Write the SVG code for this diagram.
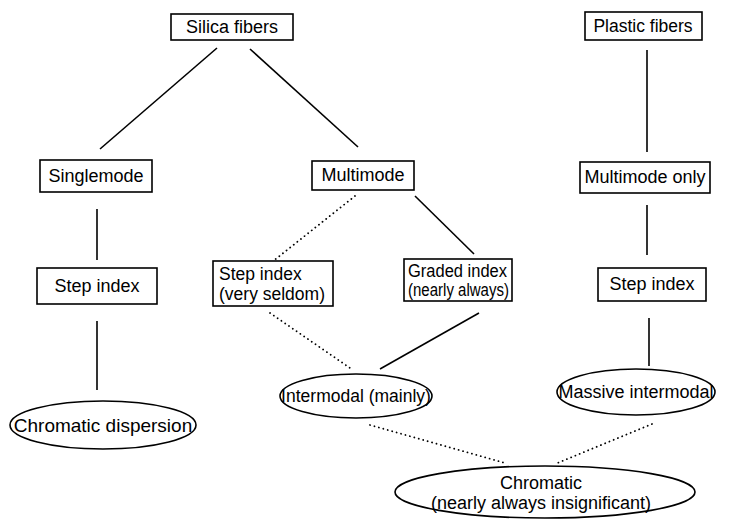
<svg xmlns="http://www.w3.org/2000/svg" width="744" height="522" viewBox="0 0 744 522">
<style>
.box{fill:#fff;stroke:#000;stroke-width:1.6}
.t{font-family:"Liberation Sans",Arial,sans-serif;font-size:18px;fill:#000}
.c{text-anchor:middle}
.s{stroke:#000;stroke-width:1.6;fill:none}
.d{stroke:#000;stroke-width:1.8;fill:none;stroke-dasharray:0.1 4.5;stroke-linecap:round}
</style>
<rect width="744" height="522" fill="#fff"/>
<g id="connectors">
<line class="s" x1="217" y1="48" x2="100" y2="149"/>
<line class="s" x1="250" y1="49" x2="358" y2="147"/>
<line class="s" x1="97" y1="209" x2="97" y2="260"/>
<line class="s" x1="97" y1="321" x2="97" y2="390"/>
<line class="d" x1="355" y1="196" x2="272" y2="262"/>
<line class="s" x1="415" y1="196" x2="474" y2="254"/>
<line class="d" x1="270" y1="313" x2="350" y2="368"/>
<line class="s" x1="479" y1="313" x2="380" y2="369"/>
<line class="s" x1="647" y1="50" x2="647" y2="152"/>
<line class="s" x1="647" y1="205" x2="647" y2="255"/>
<line class="s" x1="649" y1="318" x2="649" y2="366"/>
<line class="d" x1="370" y1="425" x2="505" y2="463"/>
<line class="d" x1="652" y1="424" x2="555" y2="464"/>
</g>
<g id="silica"><rect class="box" x="171" y="14" width="122" height="26"/><text class="t c" x="232" y="33">Silica fibers</text></g>
<g id="plastic"><rect class="box" x="585" y="12" width="117" height="28"/><text class="t c" x="643" y="32" style="font-size:17.5px">Plastic fibers</text></g>
<g id="singlemode"><rect class="box" x="40" y="160" width="112" height="32"/><text class="t c" x="96" y="182">Singlemode</text></g>
<g id="multimode"><rect class="box" x="312" y="161" width="102" height="29"/><text class="t c" x="363" y="181">Multimode</text></g>
<g id="multimode-only"><rect class="box" x="580" y="162" width="130" height="31"/><text class="t c" x="645" y="183">Multimode only</text></g>
<g id="step-single"><rect class="box" x="37" y="268" width="120" height="36"/><text class="t c" x="97" y="292">Step index</text></g>
<g id="step-seldom"><rect class="box" x="213" y="261" width="120" height="45"/><text class="t" x="219" y="280" style="font-size:17.5px">Step index</text><text class="t" x="219" y="300" style="font-size:17.5px">(very seldom)</text></g>
<g id="graded"><rect class="box" x="404" y="259" width="108" height="42"/><text class="t" x="408" y="277" style="font-size:17.5px" textLength="99" lengthAdjust="spacingAndGlyphs">Graded index</text><text class="t" x="408" y="296" style="font-size:17.5px" textLength="101" lengthAdjust="spacingAndGlyphs">(nearly always)</text></g>
<g id="step-plastic"><rect class="box" x="598" y="268" width="108" height="33"/><text class="t c" x="652" y="290">Step index</text></g>
<g id="chromatic-dispersion"><ellipse class="box" cx="103" cy="425" rx="93" ry="24"/><text class="t c" x="103" y="432" style="font-size:19px">Chromatic dispersion</text></g>
<g id="intermodal"><ellipse class="box" cx="356" cy="396" rx="76" ry="22"/><text class="t c" x="356" y="402" style="font-size:17.5px">Intermodal (mainly)</text></g>
<g id="massive"><ellipse class="box" cx="636" cy="392" rx="79" ry="23"/><text class="t c" x="636" y="398">Massive intermodal</text></g>
<g id="chromatic"><ellipse class="box" cx="545" cy="492" rx="150" ry="26"/><text class="t c" x="541" y="489">Chromatic</text><text class="t c" x="541" y="509">(nearly always insignificant)</text></g>
</svg>
